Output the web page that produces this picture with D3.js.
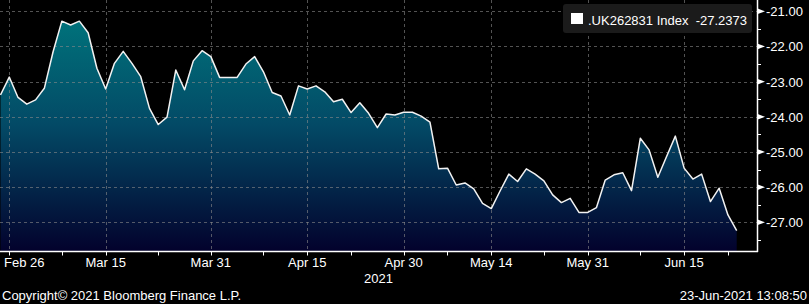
<!DOCTYPE html>
<html>
<head>
<meta charset="utf-8">
<script src="https://cdn.jsdelivr.net/npm/d3@7"></script>
<style>
  html, body { margin: 0; padding: 0; background: #000; }
  svg { display: block; font-family: "Liberation Sans", Arial, sans-serif; }
</style>
</head>
<body>
<div id="app"></div>
<script>
const width = 809;
const height = 304;

// business days Feb 25 .. Jun 23 2021
const dates = d3.timeDay
  .range(new Date(2021, 1, 25), new Date(2021, 5, 24))
  .filter(d => d.getDay() !== 0 && d.getDay() !== 6);

const values = [
  -23.38, -22.87, -23.45, -23.64, -23.52, -23.19, -22.15, -21.28, -21.39, -21.28,
  -21.61, -22.62, -23.21, -22.48, -22.14, -22.48, -22.86, -23.76, -24.22, -24.01,
  -22.67, -23.23, -22.41, -22.12, -22.29, -22.88, -22.88, -22.88, -22.50, -22.29,
  -22.72, -23.31, -23.41, -23.95, -23.12, -23.21, -23.12, -23.29, -23.57, -23.50,
  -23.88, -23.60, -23.90, -24.31, -23.92, -23.95, -23.87, -23.87, -23.98, -24.15,
  -25.48, -25.46, -25.94, -25.88, -26.05, -26.46, -26.61, -26.11, -25.63, -25.84,
  -25.48, -25.63, -25.82, -26.22, -26.44, -26.32, -26.72, -26.72, -26.58, -25.80,
  -25.65, -25.59, -26.10, -24.61, -24.94, -25.72, -25.13, -24.55, -25.46, -25.77,
  -25.63, -26.41, -26.03, -26.79, -27.2373
];

const xTickDates = ["2021-02-26", "2021-03-15", "2021-03-31", "2021-04-15", "2021-04-30", "2021-05-14", "2021-05-31", "2021-06-15"];
const xTickLabels = ["Feb 26", "Mar 15", "Mar 31", "Apr 15", "Apr 30", "May 14", "May 31", "Jun 15"];
const xMinorDates = ["2021-03-08", "2021-03-23", "2021-04-08", "2021-04-22", "2021-05-07", "2021-05-24", "2021-06-08", "2021-06-22"];
const yTicks = [-21, -22, -23, -24, -25, -26, -27];
const yMinor = [-21.5, -22.5, -23.5, -24.5, -25.5, -26.5, -27.5];

const seriesName = ".UK262831 Index";
const lastValue = "-27.2373";

const plotRight = 757;
const plotBottom = 252;

const fmt = d3.timeFormat("%Y-%m-%d");
const dateIndex = s => dates.findIndex(d => fmt(d) === s);

const x = d3.scaleLinear().domain([0, dates.length - 1]).range([0.5, 736.7]);
const y = d3.scaleLinear().domain([-27, -21]).range([222.3, 11.3]);

const svg = d3.select("#app").append("svg")
  .attr("width", width)
  .attr("height", height);

svg.append("rect").attr("width", width).attr("height", height).attr("fill", "#000");

const grad = svg.append("defs").append("linearGradient")
  .attr("id", "fillGrad")
  .attr("gradientUnits", "userSpaceOnUse")
  .attr("x1", 0).attr("x2", 0).attr("y1", 20).attr("y2", plotBottom);
grad.append("stop").attr("offset", "0%").attr("stop-color", "#00727b");
grad.append("stop").attr("offset", "45%").attr("stop-color", "#034a66");
grad.append("stop").attr("offset", "100%").attr("stop-color", "#03012c");

const data = values.map((v, i) => ({ i, v }));

const area = d3.area()
  .x(d => x(d.i))
  .y0(plotBottom)
  .y1(d => y(d.v));

const line = d3.line()
  .x(d => x(d.i))
  .y(d => y(d.v));

svg.append("path")
  .datum(data)
  .attr("d", area)
  .attr("fill", "url(#fillGrad)");

// grid
const grid = svg.append("g")
  .attr("stroke", "#8a8a8a")
  .attr("stroke-opacity", 0.6)
  .attr("stroke-dasharray", "3,3")
  .attr("stroke-width", 1);

grid.selectAll(".h").data(yTicks).join("line")
  .attr("x1", 0).attr("x2", plotRight)
  .attr("y1", d => Math.round(y(d)) + 0.5)
  .attr("y2", d => Math.round(y(d)) + 0.5);

grid.selectAll(".v").data(xTickDates).join("line")
  .attr("x1", d => Math.round(x(dateIndex(d))) + 0.5)
  .attr("x2", d => Math.round(x(dateIndex(d))) + 0.5)
  .attr("y1", 0).attr("y2", plotBottom);

svg.append("path")
  .datum(data)
  .attr("d", line)
  .attr("fill", "none")
  .attr("stroke", "#f2f2f2")
  .attr("stroke-width", 1.5)
  .attr("stroke-linejoin", "round");

// axes frame
svg.append("line")
  .attr("x1", 0).attr("x2", plotRight + 1)
  .attr("y1", plotBottom - 0.5).attr("y2", plotBottom - 0.5)
  .attr("stroke", "#fff").attr("stroke-width", 1.5);
svg.append("line")
  .attr("x1", plotRight + 0.5).attr("x2", plotRight + 0.5)
  .attr("y1", 0).attr("y2", plotBottom)
  .attr("stroke", "#fff").attr("stroke-width", 1.5);

// x ticks
svg.append("g").selectAll("line")
  .data(xTickDates.concat(xMinorDates))
  .join("line")
  .attr("x1", d => Math.round(x(dateIndex(d))) + 0.5)
  .attr("x2", d => Math.round(x(dateIndex(d))) + 0.5)
  .attr("y1", plotBottom).attr("y2", plotBottom + 3.5)
  .attr("stroke", "#fff").attr("stroke-width", 1);

svg.append("g").selectAll("text")
  .data(xTickDates)
  .join("text")
  .attr("y", 267)
  .attr("text-anchor", "middle")
  .attr("fill", "#fff")
  .attr("font-size", 13)
  .text((d, i) => xTickLabels[i])
  .attr("x", function (d) {
    // keep the first label inside the left edge
    const half = this.getComputedTextLength() / 2;
    return Math.max(x(dateIndex(d)), half + 4);
  });

svg.append("text")
  .attr("x", plotRight / 2)
  .attr("y", 283)
  .attr("text-anchor", "middle")
  .attr("fill", "#fff")
  .attr("font-size", 13)
  .text("2021");

// y ticks
svg.append("g").selectAll("path")
  .data(yTicks)
  .join("path")
  .attr("d", d => `M${plotRight},${y(d) - 3}L${plotRight + 8},${y(d)}L${plotRight},${y(d) + 3}Z`)
  .attr("fill", "#fff");

svg.append("g").selectAll("line")
  .data(yMinor)
  .join("line")
  .attr("x1", plotRight).attr("x2", plotRight + 4)
  .attr("y1", d => Math.round(y(d)) + 0.5)
  .attr("y2", d => Math.round(y(d)) + 0.5)
  .attr("stroke", "#fff");

svg.append("g").selectAll("text")
  .data(yTicks)
  .join("text")
  .attr("x", 766)
  .attr("y", d => y(d) + 5)
  .attr("fill", "#fff")
  .attr("font-size", 13)
  .text(d => d3.format(".2f")(d).replace("−", "-"));

// legend
const lg = svg.append("g");
lg.append("rect")
  .attr("x", 563).attr("y", 4).attr("width", 189).attr("height", 29).attr("rx", 3)
  .attr("fill", "#1b1b1b");
lg.append("rect")
  .attr("x", 571).attr("y", 13).attr("width", 12).attr("height", 11)
  .attr("fill", "#fff");
lg.append("text")
  .attr("x", 588).attr("y", 24.5)
  .attr("fill", "#fff")
  .attr("font-size", 13)
  .attr("xml:space", "preserve")
  .style("white-space", "pre")
  .text(seriesName + "  " + lastValue);

// footer
svg.append("text")
  .attr("x", 2).attr("y", 300)
  .attr("fill", "#fff")
  .attr("font-size", 13)
  .text("Copyright\u00a9 2021 Bloomberg Finance L.P.");

svg.append("text")
  .attr("x", 807).attr("y", 300)
  .attr("text-anchor", "end")
  .attr("fill", "#fff")
  .attr("font-size", 13)
  .text("23-Jun-2021 13:08:50");
</script>
</body>
</html>
